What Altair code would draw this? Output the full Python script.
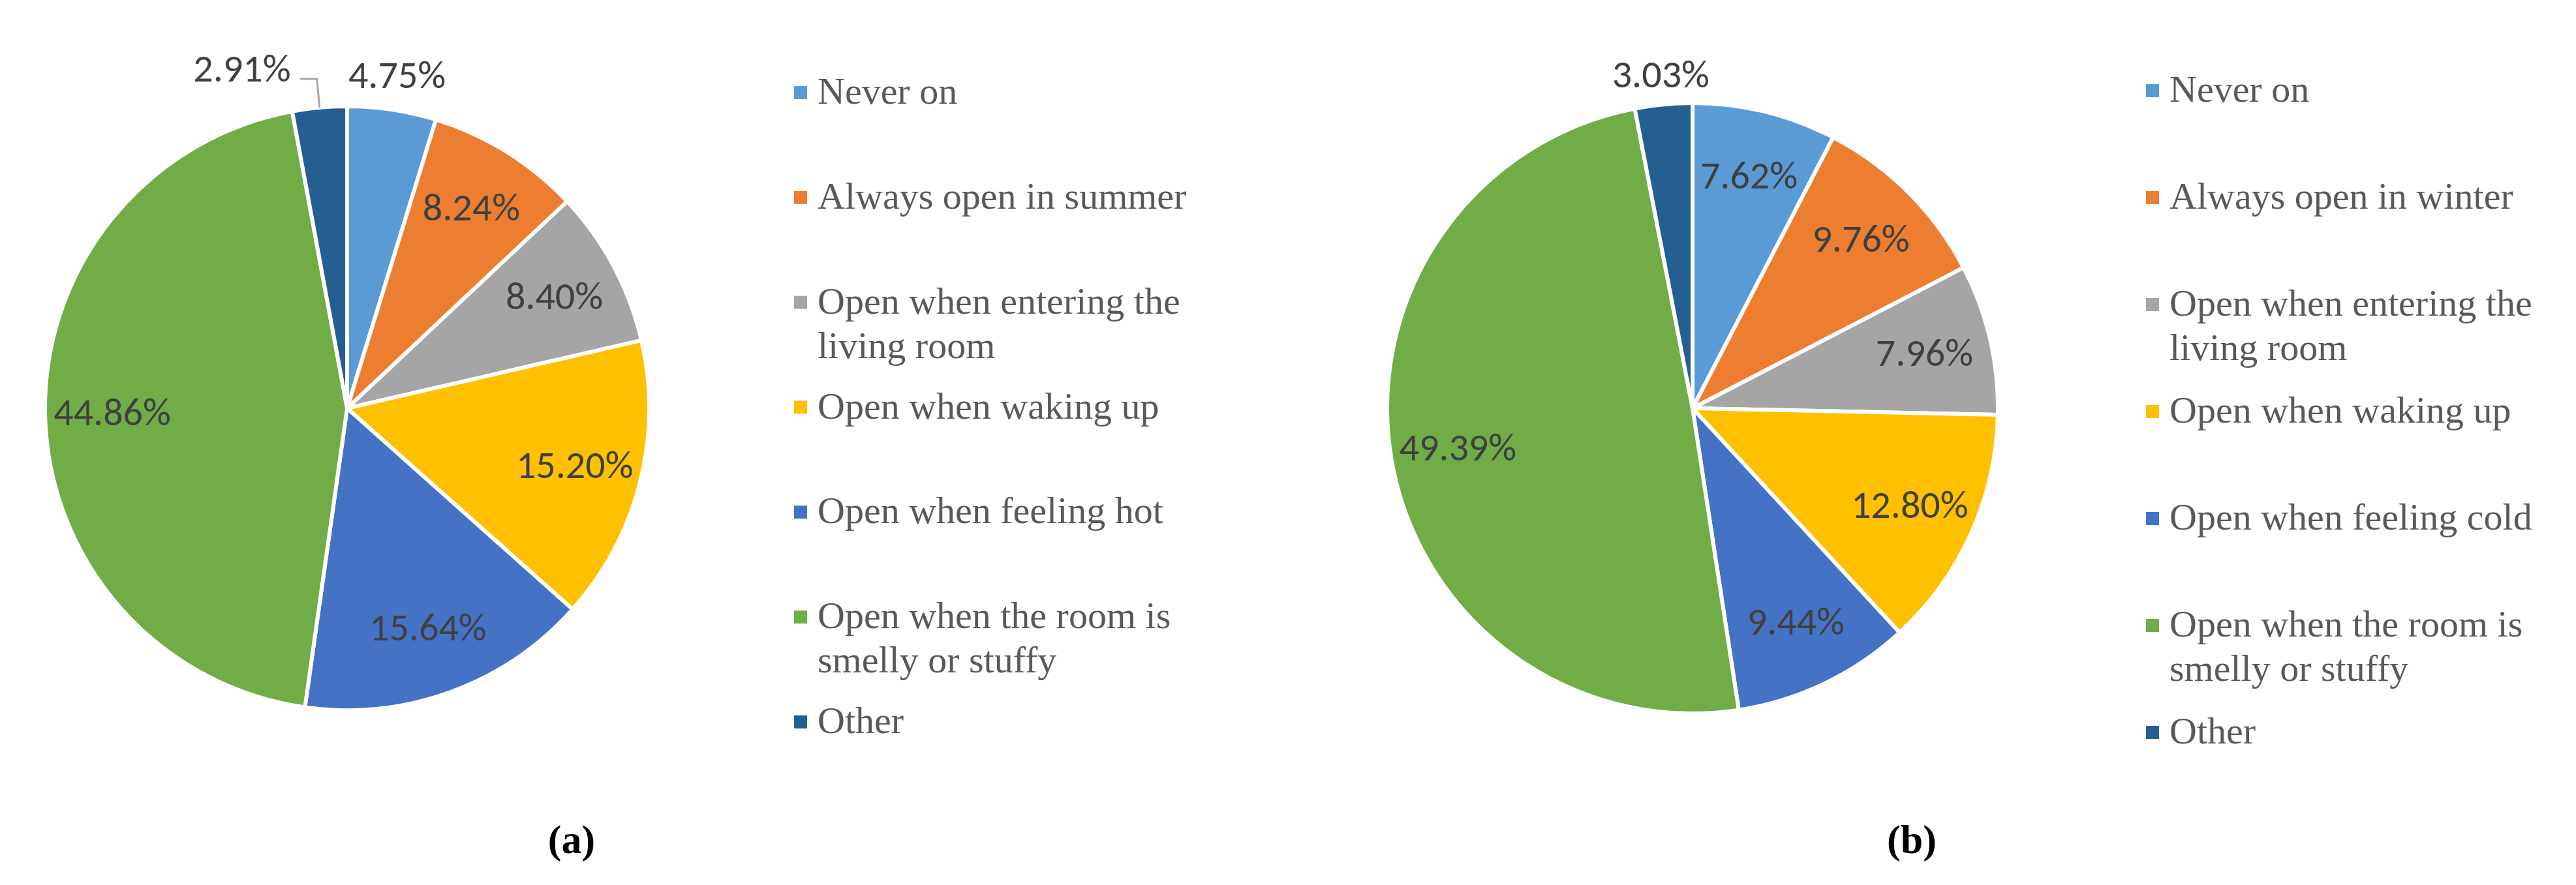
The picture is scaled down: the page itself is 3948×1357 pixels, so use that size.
import math
import textwrap

import altair as alt
import pandas as pd

# ---------------- data ----------------
cats_a = [
    "Never on",
    "Always open in summer",
    "Open when entering the living room",
    "Open when waking up",
    "Open when feeling hot",
    "Open when the room is smelly or stuffy",
    "Other",
]
vals_a = [4.75, 8.24, 8.40, 15.20, 15.64, 44.86, 2.91]

cats_b = [
    "Never on",
    "Always open in winter",
    "Open when entering the living room",
    "Open when waking up",
    "Open when feeling cold",
    "Open when the room is smelly or stuffy",
    "Other",
]
vals_b = [7.62, 9.76, 7.96, 12.80, 9.44, 49.39, 3.03]

colors = ["#5B9BD5", "#ED7D31", "#A5A5A5", "#FFC000", "#4472C4", "#70AD47", "#255E91"]
captions = ["(a)", "(b)"]

LABEL_FONT = "Carlito, Liberation Sans Narrow, Roboto, sans-serif"
SERIF = "Liberation Serif"


def make_df(cats, vals):
    df = pd.DataFrame({"cat": cats, "value": vals, "idx": list(range(len(cats)))})
    df["end"] = df["value"].cumsum()
    df["start"] = df["end"] - df["value"]
    df["mid"] = (df["start"] + df["end"]) / 2
    df["label"] = df["value"].map(lambda v: f"{v:.2f}%")
    lines = [textwrap.wrap(c, 22) for c in cats]
    df["line1"] = [l[0] for l in lines]
    df["line2"] = [l[1] if len(l) > 1 else "" for l in lines]
    return df


df_a = make_df(cats_a, vals_a)
df_b = make_df(cats_b, vals_b)

color_enc = alt.Color(
    "idx:N",
    scale=alt.Scale(domain=list(range(len(colors))), range=colors),
    legend=None,
)
theta_scale = alt.Scale(domain=[0, 100])


def pie(df, W, H, R, r_in, r_out, displaced=None, dx=0):
    base = alt.Chart(df)
    arc = base.mark_arc(outerRadius=R, stroke="white", strokeWidth=6).encode(
        theta=alt.Theta("start:Q", scale=theta_scale),
        theta2="end:Q",
        color=color_enc,
    )
    txt_style = dict(font=LABEL_FONT, fontSize=60, color="#404040")
    inside = (
        base.transform_filter("datum.value >= 5")
        .mark_text(radius=r_in, **txt_style)
        .encode(theta=alt.Theta("mid:Q", scale=theta_scale), text="label:N")
    )
    flt = "datum.value < 5"
    if displaced is not None:
        flt += f" && datum.cat != '{displaced}'"
    outside = (
        base.transform_filter(flt)
        .mark_text(radius=r_out, **txt_style)
        .encode(theta=alt.Theta("mid:Q", scale=theta_scale), text="label:N")
    )
    layers = [arc, inside, outside]
    if displaced is not None:
        moved = (
            base.transform_filter(f"datum.cat == '{displaced}'")
            .mark_text(radius=r_out, dx=dx, dy=-6, **txt_style)
            .encode(theta=alt.Theta("mid:Q", scale=theta_scale), text="label:N")
        )
        # leader line derived from the slice's mid angle
        row = df[df["cat"] == displaced].iloc[0]
        ang = row["mid"] / 100 * 2 * math.pi
        cx, cy = W / 2, H / 2
        p0 = (cx + R * math.sin(ang), cy - R * math.cos(ang))
        p1 = (cx + (R + 44) * math.sin(ang), cy - (R + 44) * math.cos(ang))
        p2 = (p1[0] - 26, p1[1])
        lead = pd.DataFrame(
            {"px": [p0[0], p1[0], p2[0]], "py": [p0[1], p1[1], p2[1]], "o": [0, 1, 2]}
        )
        leader = (
            alt.Chart(lead)
            .mark_line(color="#A6A6A6", strokeWidth=3)
            .encode(
                x=alt.X("px:Q", scale=alt.Scale(domain=[0, W], nice=False), axis=None),
                y=alt.Y(
                    "py:Q",
                    scale=alt.Scale(domain=[0, H], nice=False, reverse=True),
                    axis=None,
                ),
                order="o:Q",
            )
        )
        layers += [leader, moved]
    return alt.layer(*layers).properties(width=W, height=H)


def legend(df, W, H, y0, y1):
    ys = alt.Y(
        "idx:Q",
        scale=alt.Scale(domain=[0, len(df) - 1], range=[y0, y1], nice=False, zero=False),
        axis=None,
    )
    base = alt.Chart(df)
    sq = base.mark_square(size=400, opacity=1).encode(
        x=alt.value(10), y=ys, color=color_enc
    )
    style = dict(align="left", baseline="middle", font=SERIF, fontSize=58, color="#595959")
    t1 = base.mark_text(**style).encode(x=alt.value(36), y=ys, text="line1:N")
    t2 = base.mark_text(dy=68, **style).encode(x=alt.value(36), y=ys, text="line2:N")
    return alt.layer(sq, t1, t2).properties(width=W, height=H)


H = 1226


def caption(text, dx):
    return alt.TitleParams(
        text,
        orient="bottom",
        anchor="start",
        align="center",
        dx=dx,
        offset=20,
        font=SERIF,
        fontSize=62,
        fontWeight="bold",
        color="black",
    )


fig_a = alt.hconcat(
    pie(df_a, 1038, H, 463, 360, 515, displaced="Other", dx=-114),
    legend(df_a, 640, H, 129, 1094),
    spacing=166,
).properties(title=caption(captions[0], 863))

fig_b = alt.hconcat(
    pie(df_b, 1038, H, 468, 365, 512),
    legend(df_b, 615, H, 126, 1110),
    spacing=176,
).properties(title=caption(captions[1], 855))

chart = (
    alt.hconcat(fig_a, fig_b, spacing=218)
    .configure_view(stroke=None)
    .properties(background="white")
)

chart.save("out.html", embed_options={"renderer": "svg", "actions": False})
